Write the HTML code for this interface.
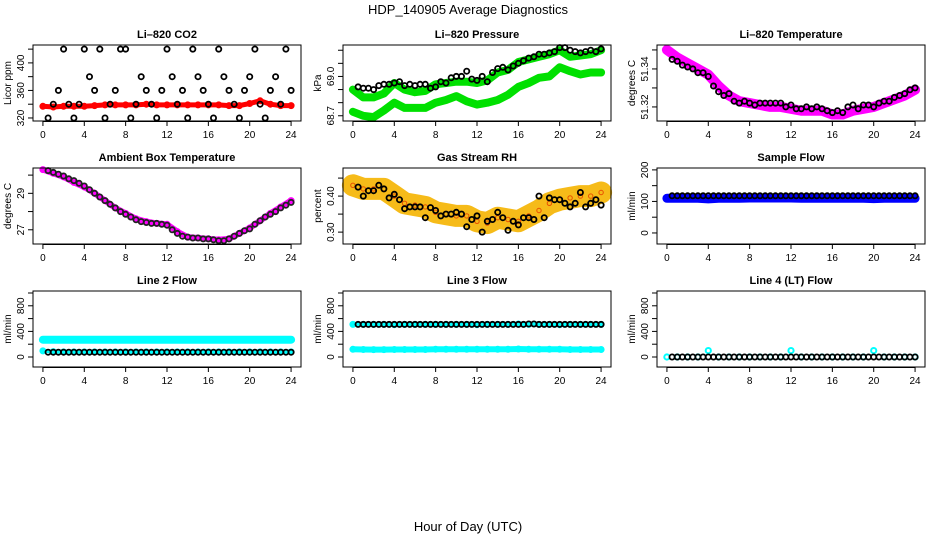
<!DOCTYPE html>
<html><head><meta charset="utf-8"><style>
html,body{margin:0;padding:0;background:#fff;}
svg{display:block;font-family:"Liberation Sans",Arial,sans-serif;}
</style></head><body>
<svg id="chart" width="936" height="540" viewBox="0 0 936 540" xmlns="http://www.w3.org/2000/svg">
<text x="468" y="14" text-anchor="middle" font-size="13">HDP_140905  Average Diagnostics</text>
<text x="468" y="531" text-anchor="middle" font-size="13">Hour of Day (UTC)</text>
</svg>
<script>
// ---- data ----
const hours = [0,1,2,3,4,5,6,7,8,9,10,11,12,13,14,15,16,17,18,19,20,21,22,23,24];
const halfHours = [0.5,1,1.5,2,2.5,3,3.5,4,4.5,5,5.5,6,6.5,7,7.5,8,8.5,9,9.5,10,10.5,11,11.5,12,12.5,13,13.5,14,14.5,15,15.5,16,16.5,17,17.5,18,18.5,19,19.5,20,20.5,21,21.5,22,22.5,23,23.5,24];
const xTicks = [0,4,8,12,16,20,24];

const co2Black = [320,340,360,420,340,320,340,420,380,360,420,320,340,360,420,420,320,340,380,360,340,320,360,420,380,340,360,320,420,380,360,340,320,420,380,360,340,320,360,380,420,340,320,360,380,340,420,360];
const co2Red = [337,336,337,337,337,338,339,339,339,339,340,339,339,339,339,339,339,339,338,338,341,345,340,338,338];
const pressBlack = [68.92,68.91,68.91,68.90,68.93,68.94,68.94,68.95,68.96,68.93,68.94,68.93,68.94,68.94,68.91,68.92,68.96,68.95,68.99,69.00,69.00,69.04,68.98,68.97,69.00,68.96,69.03,69.06,69.07,69.05,69.08,69.10,69.12,69.14,69.15,69.17,69.17,69.18,69.19,69.22,69.22,69.20,69.19,69.18,69.19,69.20,69.19,69.21];
const pressGreenHigh = [68.90,68.84,68.84,68.87,68.95,68.90,68.88,68.89,68.94,68.95,68.96,68.96,68.95,68.97,69.03,69.05,69.11,69.13,69.15,69.17,69.20,69.15,69.16,69.17,69.20];
const pressGreenLow = [68.73,68.70,68.69,68.74,68.80,68.76,68.76,68.76,68.80,68.82,68.85,68.81,68.785,68.80,68.82,68.86,68.92,68.95,68.99,69.00,69.07,69.04,69.015,69.03,69.03];
const tempMagenta = [51.350,51.346,51.343,51.340,51.337,51.331,51.326,51.323,51.322,51.321,51.320,51.320,51.319,51.318,51.318,51.318,51.316,51.316,51.318,51.319,51.320,51.322,51.324,51.326,51.329];
const tempBlack = [51.345,51.344,51.342,51.341,51.340,51.338,51.338,51.336,51.331,51.328,51.326,51.327,51.323,51.322,51.323,51.322,51.321,51.322,51.322,51.322,51.322,51.322,51.320,51.321,51.319,51.319,51.320,51.319,51.320,51.319,51.318,51.317,51.318,51.317,51.320,51.321,51.319,51.321,51.321,51.320,51.322,51.323,51.323,51.325,51.326,51.327,51.329,51.330];
const ambMagenta = [30.3,30.1,29.9,29.6,29.35,29.0,28.6,28.2,27.9,27.6,27.45,27.35,27.3,26.9,26.6,26.55,26.5,26.45,26.5,26.8,27.1,27.5,27.9,28.25,28.6];
const ambBlack = [30.25,30.15,30.05,29.95,29.8,29.7,29.55,29.4,29.2,29.0,28.8,28.6,28.4,28.2,28.0,27.85,27.7,27.55,27.45,27.4,27.35,27.35,27.3,27.25,27.0,26.8,26.65,26.6,26.55,26.55,26.5,26.5,26.45,26.4,26.4,26.5,26.65,26.8,26.95,27.05,27.3,27.5,27.7,27.85,28.0,28.2,28.35,28.5];
const rhOrange = [0.43,0.42,0.42,0.42,0.40,0.38,0.375,0.37,0.355,0.35,0.345,0.345,0.33,0.325,0.34,0.335,0.33,0.345,0.36,0.38,0.39,0.395,0.40,0.40,0.41];
const rhBlack = [0.425,0.40,0.415,0.415,0.43,0.42,0.395,0.405,0.39,0.365,0.37,0.37,0.37,0.34,0.368,0.36,0.345,0.35,0.35,0.355,0.35,0.315,0.335,0.345,0.30,0.33,0.335,0.355,0.34,0.305,0.33,0.32,0.34,0.34,0.335,0.40,0.34,0.395,0.39,0.39,0.38,0.37,0.38,0.41,0.37,0.38,0.39,0.375];
const sampleBlue = [110,110,110,110,108,110,110,110,111,111,111,111,111,110,110,110,110,110,110,110,109,110,110,110,110];
const sampleBlack = [118,118,118,118,118,118,118,118,118,118,118,118,118,118,118,118,118,118,118,118,118,118,118,118,118,118,118,118,118,118,118,118,118,118,118,118,118,118,118,118,118,118,118,118,118,118,118,118];
const line2CyanHigh = [270,270,270,270,270,270,270,270,270,270,270,270,270,270,270,270,270,270,270,270,270,270,270,270,270];
const line2CyanLow = [95,85,80,80,80,80,80,80,80,80,80,80,80,80,80,80,80,80,80,80,80,80,80,80,80];
const line2Black = [75,75,75,75,75,75,75,75,75,75,75,75,75,75,75,75,75,75,75,75,75,75,75,75,75,75,75,75,75,75,75,75,75,75,75,75,75,75,75,75,75,75,75,75,75,75,75,75];
const line3CyanHigh = [510,510,510,510,505,510,510,510,510,510,510,510,505,510,510,510,515,510,510,510,505,510,510,510,510];
const line3CyanLow = [120,118,115,115,118,118,118,118,122,120,120,120,120,120,120,120,125,120,120,120,120,118,118,118,118];
const line3Black = [510,510,510,510,510,510,510,510,510,510,510,510,510,510,510,510,510,510,510,510,510,510,510,510,510,510,510,510,510,510,510,510,510,515,515,510,510,510,510,510,510,510,510,510,510,510,510,510];
const line4Cyan = [0,0,0,0,100,0,0,0,0,0,0,0,100,0,0,0,0,0,0,0,100,0,0,0,0];
const line4Black = [0,0,0,0,0,0,0,0,0,0,0,0,0,0,0,0,0,0,0,0,0,0,0,0,0,0,0,0,0,0,0,0,0,0,0,0,0,0,0,0,0,0,0,0,0,0,0,0];

// ---- layout ----
const NS = "http://www.w3.org/2000/svg";
const svg = document.getElementById('chart');
const colLeft = [33, 343, 657];
const boxW = 268;
const rowTop = [45, 168, 291];
const boxH = 76;

function mk(tag, attrs, parent){
  const e = document.createElementNS(NS, tag);
  for (const k in attrs) e.setAttribute(k, attrs[k]);
  (parent||svg).appendChild(e);
  return e;
}

function panel(cfg){
  const L = colLeft[cfg.col], T = rowTop[cfg.row];
  const g = mk('g', {});
  
  
  const xs = v => L + boxW * (v + 0.96) / 25.92;
  const ys = v => T + boxH * (cfg.yMax - v) / (cfg.yMax - cfg.yMin);
  cfg.series.forEach(s => {
    const sg = mk('g', {}, g);
    
    
    const xv = s.x;
    if (s.band) {
      const pts = xv.map((x,i)=> xs(x).toFixed(1)+','+ys(s.y[i]).toFixed(1)).join(' ');
      const pl = mk('polyline', {points: pts, fill:'none', stroke: s.color, 'stroke-width': s.band, 'stroke-linejoin':'round', 'stroke-linecap':'round', opacity: s.opacity||1}, sg);
      
      
    }
    if (s.markers !== false) {
      xv.forEach((x,i)=>{
        const c = mk('circle', {cx: xs(x).toFixed(1), cy: ys(s.y[i]).toFixed(1), r: s.r||2.6, fill:'none', stroke: s.mcolor||s.color, 'stroke-width': s.sw||1.8}, sg);
        
        
      });
    }
  });
  const box = mk('rect', {x:L, y:T, width:boxW, height:boxH, fill:'none', stroke:'#000', 'stroke-width':1}, g);
  
  
  const tt = mk('text', {x: L + boxW/2, y: T - 7, 'text-anchor':'middle', 'font-size':11, 'font-weight':'bold'}, g);
  tt.textContent = cfg.title;
  
  
  xTicks.forEach(v=>{
    mk('line', {x1: xs(v), x2: xs(v), y1: T+boxH, y2: T+boxH+5, stroke:'#000'}, g);
    const t = mk('text', {x: xs(v), y: T+boxH+17, 'text-anchor':'middle', 'font-size':10}, g);
    t.textContent = v;
    
    
  });
  mk('line', {x1: xs(0), x2: xs(24), y1: T+boxH+0.5, y2: T+boxH+0.5, stroke:'#000'}, g);
  const yt = cfg.yTicks;
  mk('line', {x1: L, x2: L, y1: ys(yt[0]), y2: ys(yt[yt.length-1]), stroke:'#000'}, g);
  yt.forEach(v=>{
    mk('line', {x1: L-5, x2: L, y1: ys(v), y2: ys(v), stroke:'#000'}, g);
  });
  cfg.yLabels.forEach(v=>{
    const yy = ys(v);
    const t = mk('text', {x: L-9, y: yy, 'text-anchor':'middle', 'font-size':10, transform:`rotate(-90 ${L-9} ${yy})`}, g);
    t.textContent = cfg.fmt ? cfg.fmt(v) : v;
    
    
  });
  const yl = mk('text', {x: L-22, y: T+boxH/2, 'text-anchor':'middle', 'font-size':10, transform:`rotate(-90 ${L-22} ${T+boxH/2})`}, g);
  yl.textContent = cfg.ylab;
  
  
}

panel({name:'co2', col:0, row:0, title:'Li\u2013820 CO2', ylab:'Licor ppm', yMin:315.6, yMax:426,
  yTicks:[320,340,360,380,400,420], yLabels:[320,360,400],
  series:[
    {name:'co2-red', x:hours, y:co2Red, color:'#ff0000', band:5},
    {name:'co2-black', x:halfHours, y:co2Black, color:'#000'}
  ]});
panel({name:'pressure', col:1, row:0, title:'Li\u2013820 Pressure', ylab:'kPa', yMin:68.66, yMax:69.24,
  yTicks:[68.7,68.8,68.9,69.0,69.1,69.2], yLabels:[68.7,69.0], fmt:v=>v.toFixed(1),
  series:[
    {name:'pressure-green-low', x:hours, y:pressGreenLow, color:'#00e000', band:8},
    {name:'pressure-green-high', x:hours, y:pressGreenHigh, color:'#00e000', band:8},
    {name:'pressure-black', x:halfHours, y:pressBlack, color:'#000'}
  ]});
panel({name:'li820-temperature', col:2, row:0, title:'Li\u2013820 Temperature', ylab:'degrees C', yMin:51.3126, yMax:51.3526,
  yTicks:[51.32,51.33,51.34,51.35], yLabels:[51.32,51.34], fmt:v=>v.toFixed(2),
  series:[
    {name:'li820-temp-magenta', x:hours, y:tempMagenta, color:'#ff00ff', band:10},
    {name:'li820-temp-black', x:halfHours, y:tempBlack, color:'#000'}
  ]});
panel({name:'ambient-temperature', col:0, row:1, title:'Ambient Box Temperature', ylab:'degrees C', yMin:26.22, yMax:30.39,
  yTicks:[27,28,29,30], yLabels:[27,29],
  series:[
    {name:'ambient-magenta', x:hours, y:ambMagenta, color:'#ff00ff', band:6},
    {name:'ambient-black', x:halfHours, y:ambBlack, color:'#000', mcolor:'#222'}
  ]});
panel({name:'gas-stream-rh', col:1, row:1, title:'Gas Stream RH', ylab:'percent', yMin:0.267, yMax:0.478,
  yTicks:[0.30,0.35,0.40,0.45], yLabels:[0.30,0.40], fmt:v=>v.toFixed(2),
  series:[
    {name:'rh-orange', x:hours, y:rhOrange, color:'#f5b400', band:22, opacity:0.9, mcolor:'#e85000', r:2.2, sw:1},
    {name:'rh-black', x:halfHours, y:rhBlack, color:'#000'}
  ]});
panel({name:'sample-flow', col:2, row:1, title:'Sample Flow', ylab:'ml/min', yMin:-35, yMax:206,
  yTicks:[0,50,100,150,200], yLabels:[0,100,200],
  series:[
    {name:'sample-blue', x:hours, y:sampleBlue, color:'#0000ff', band:9},
    {name:'sample-black', x:halfHours, y:sampleBlack, color:'#000'}
  ]});
panel({name:'line2-flow', col:0, row:2, title:'Line 2 Flow', ylab:'ml/min', yMin:-156, yMax:1031,
  yTicks:[0,200,400,600,800,1000], yLabels:[0,400,800],
  series:[
    {name:'line2-cyan-high', x:hours, y:line2CyanHigh, color:'#00ffff', band:8},
    {name:'line2-cyan-low', x:hours, y:line2CyanLow, color:'#00ffff', band:4},
    {name:'line2-black', x:halfHours, y:line2Black, color:'#000'}
  ]});
panel({name:'line3-flow', col:1, row:2, title:'Line 3 Flow', ylab:'ml/min', yMin:-156, yMax:1031,
  yTicks:[0,200,400,600,800,1000], yLabels:[0,400,800],
  series:[
    {name:'line3-cyan-high', x:hours, y:line3CyanHigh, color:'#00ffff', band:4},
    {name:'line3-cyan-low', x:hours, y:line3CyanLow, color:'#00ffff', band:6},
    {name:'line3-black', x:halfHours, y:line3Black, color:'#000'}
  ]});
panel({name:'line4-flow', col:2, row:2, title:'Line 4 (LT) Flow', ylab:'ml/min', yMin:-156, yMax:1031,
  yTicks:[0,200,400,600,800,1000], yLabels:[0,400,800],
  series:[
    {name:'line4-cyan', x:hours, y:line4Cyan, color:'#00ffff', band:0, sw:2},
    {name:'line4-black', x:halfHours, y:line4Black, color:'#000'}
  ]});
</script>
</body></html>
